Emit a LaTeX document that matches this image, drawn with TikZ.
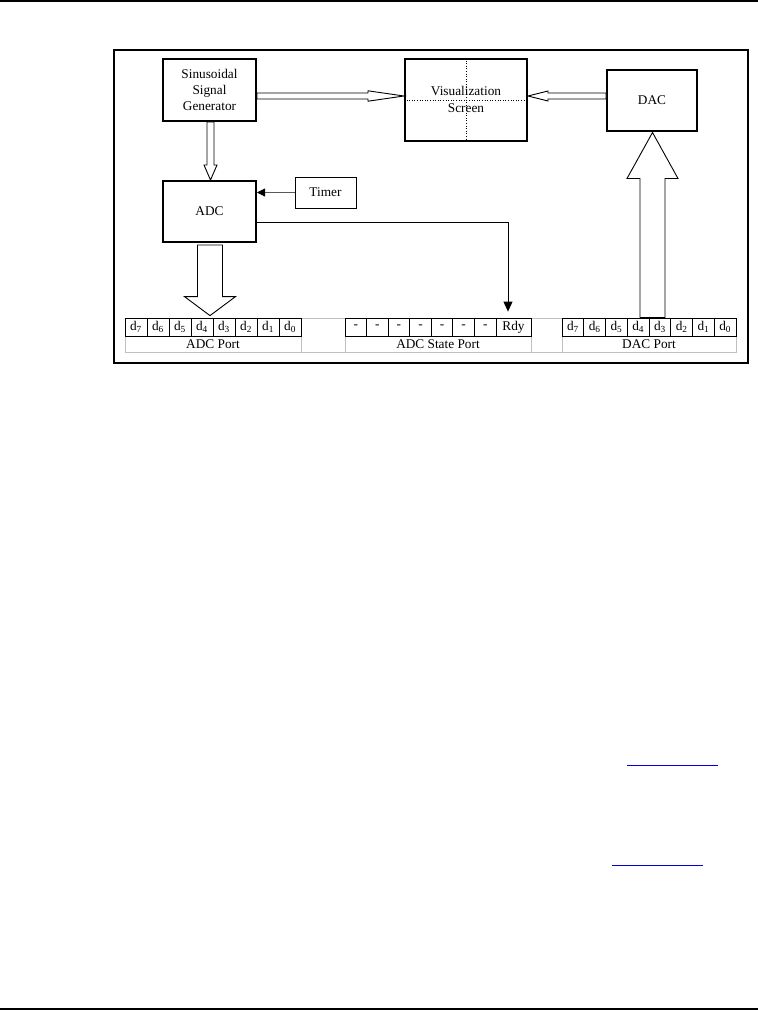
\documentclass[tikz,border=0pt]{standalone}
\usepackage{fontspec}
\setmainfont{Liberation Serif}
\usetikzlibrary{arrows.meta,calc}
\definecolor{linkblue}{RGB}{0,0,224}
\definecolor{cellgray}{RGB}{192,192,192}
\newcommand\blockarrow[5]{%
  \coordinate (hb) at ($(#2)!#5!(#1)$);
  \draw[barrow] ($(#1)!#3!90:(#2)$) -- ($(hb)!#3!-90:(#1)$) -- ($(hb)!#4!-90:(#1)$)
    -- (#2) -- ($(hb)!#4!90:(#1)$) -- ($(hb)!#3!90:(#1)$) -- ($(#1)!#3!-90:(#2)$) -- cycle;}
\begin{document}
\begin{tikzpicture}[x=1pt,y=-1pt,
  txt/.style={font=\fontsize{13.3}{16}\selectfont},
  box/.style={txt,draw,line width=2pt,inner sep=0pt,align=center},
  thinbox/.style={txt,draw,line width=0.9pt,inner sep=0pt,align=center},
  cell/.style={txt,draw,line width=0.8pt,inner sep=0pt,minimum height=18pt},
  lbl/.style={txt,inner sep=0pt},
  barrow/.style={draw,line width=0.9pt,fill=white,line join=miter},
  rule/.style={line width=2pt},
  link/.style={linkblue,line width=1pt},
  cross/.style={dotted,line width=0.6pt}]
\useasboundingbox (0,0) rectangle (758,1010);
% page rules
\draw[rule] (0,1) -- (758,1);
\draw[rule] (0,1009) -- (758,1009);
\draw[link] (627,765) -- (718,765);
\draw[link] (612,865) -- (703,865);
% frame
\draw[line width=1.3pt] (114,50) rectangle (748,363);
% boxes
\node[box,minimum width=93pt,minimum height=62pt] (gen) at (209.5,90) {Sinusoidal\\Signal\\Generator};
\node[box,minimum width=122pt,minimum height=82pt] (vis) at (466,100) {};
\node[lbl,align=center,font=\fontsize{13.3}{17.5}\selectfont] (vist) at (466,99.5) {Visualization\\Screen};
\draw[cross] (vis.north) -- (vis.south);
\draw[cross] ($(vis.west)+(0,0.7)$) -- ($(vis.east)+(0,0.7)$);
\node[box,minimum width=90pt,minimum height=61pt] (dac) at (652,100.5) {DAC};
\node[box,minimum width=93pt,minimum height=61pt] (adc) at (209.5,211.5) {ADC};
\node[thinbox,minimum width=61pt,minimum height=31pt] (timer) at (325.5,192.5) {Timer};
% port table: gray outline
\draw[cellgray,line width=0.8pt] (125,318) rectangle (736,352.5);
\foreach \x in {301,345,531,562} \draw[cellgray,line width=0.8pt] (\x,318) -- (\x,352.5);
% ADC port cells
\foreach \i [count=\k from 0] in {7,6,5,4,3,2,1,0}
  \node[cell,minimum width=22pt] (a\i) at (136+22*\k,327) {d\textsubscript{\i}};
% ADC state port cells
\foreach \k in {0,...,6}
  \node[cell,minimum width=21.57pt] (s\k) at (355.8+21.57*\k,327) {-};
\node[cell,minimum width=35pt] (rdy) at (513.5,327) {Rdy};
% DAC port cells
\foreach \i [count=\k from 0] in {7,6,5,4,3,2,1,0}
  \node[cell,minimum width=21.75pt] (b\i) at (572.9+21.75*\k,327) {d\textsubscript{\i}};
\node[lbl] (adcport) at (213,344.5) {ADC Port};
\node[lbl] (stport) at (438,344.5) {ADC State Port};
\node[lbl] (dacport) at (649,344.5) {DAC Port};
% block arrows
\coordinate (g1) at ($(gen.east)+(0,6)$);
\coordinate (g2) at (vis.west |- g1);
\blockarrow{g1}{g2}{3pt}{5.2pt}{36pt}
\coordinate (d1) at ($(dac.west)+(0,-4.5)$);
\coordinate (d2) at (vis.east |- d1);
\blockarrow{d1}{d2}{3pt}{5pt}{20pt}
\coordinate (ga) at ($(gen.south)+(1,0)$);
\coordinate (gb) at ($(adc.north)+(1,0)$);
\blockarrow{ga}{gb}{3.5pt}{6.5pt}{15pt}
\coordinate (p1) at ($(adc.south)+(0.5,2)$);
\coordinate (p2) at ($(p1 |- a4.north)+(0,-2)$);
\blockarrow{p1}{p2}{12.5pt}{25.5pt}{19pt}
\coordinate (q1) at ($(dac.south |- b4.north)+(0.5,0)$);
\coordinate (q2) at ($(dac.south)+(0.5,0.5)$);
\blockarrow{q1}{q2}{12.5pt}{25.5pt}{46pt}
% signal lines
\draw[gray!70!black,line width=0.8pt,-{Triangle[length=8pt,width=8pt,color=black]}] (timer.west) -- (adc.east |- timer.west);
\draw[line width=0.9pt,-{Triangle[length=10pt,width=9pt]}] ($(adc.east)+(0,10.5)$) -| ($(rdy.north)+(-5.5,-6)$);
\end{tikzpicture}
\end{document}
